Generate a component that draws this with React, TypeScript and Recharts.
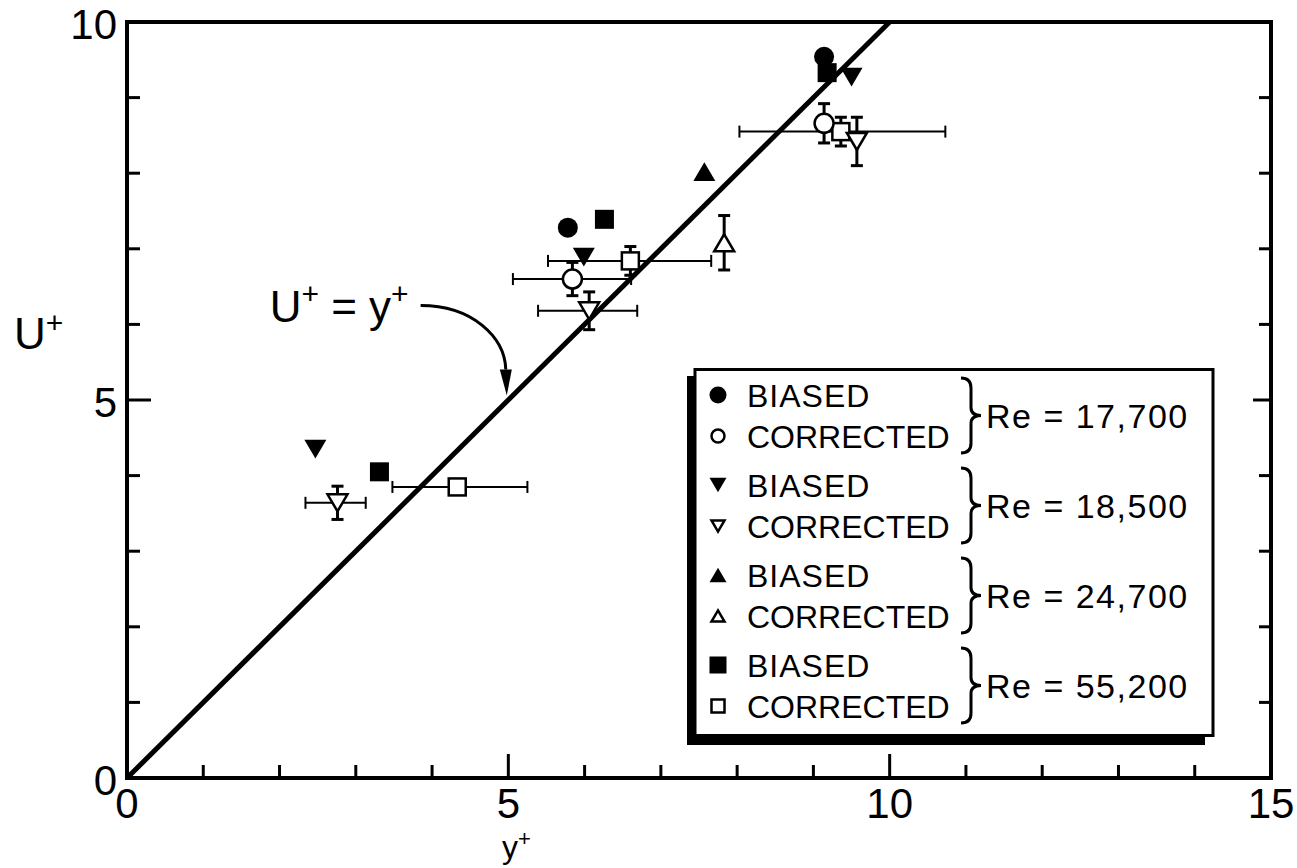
import React from "react";
import {
  ScatterChart,
  Scatter,
  XAxis,
  YAxis,
  ErrorBar,
  ReferenceLine,
} from "recharts";

const xTicks = [0, 1, 2, 3, 4, 5, 6, 7, 8, 9, 10, 11, 12, 13, 14, 15];
const yTicks = [0, 1, 2, 3, 4, 5, 6, 7, 8, 9, 10];
const labelledTicks = [0, 5, 10, 15];

// U+ = y+ line ends
const lawLine = [
  { x: 0, y: 0 },
  { x: 10, y: 10 },
];
// arrow from the "U+ = y+" note to the line
const noteArrow = [
  { x: 3.85, y: 6.25 },
  { x: 4.98, y: 5.06 },
];

// biased (filled) points
const biased17700 = [
  { x: 5.78, y: 7.28 },
  { x: 9.14, y: 9.54 },
];
const biased18500 = [
  { x: 5.99, y: 6.89 },
  { x: 2.47, y: 4.35 },
  { x: 9.5, y: 9.27 },
];
const biased24700 = [{ x: 7.57, y: 8.02 }];
const biased55200 = [
  { x: 6.26, y: 7.39 },
  { x: 3.31, y: 4.05 },
  { x: 9.18, y: 9.33 },
];

// corrected (open) points, ex = [minus, plus] in y+, ey = +/- in U+
const corrected17700 = [
  { x: 5.84, y: 6.6, ex: [0.78, 0.77], ey: 0.22 },
  { x: 9.14, y: 8.66, ey: 0.26 },
];
const corrected18500 = [
  { x: 6.06, y: 6.18, ex: [0.67, 0.63], ey: 0.25 },
  { x: 2.76, y: 3.64, ex: [0.42, 0.37], ey: 0.22 },
  { x: 9.57, y: 8.42, ey: 0.32 },
];
const corrected24700 = [{ x: 7.83, y: 7.08, ey: 0.36 }];
const corrected55200 = [
  { x: 6.6, y: 6.84, ex: [1.08, 1.06], ey: 0.19 },
  { x: 4.33, y: 3.85, ex: [0.85, 0.92] },
  { x: 9.36, y: 8.55, ex: [1.33, 1.37], ey: 0.19 },
];

const legendRows = [
  { re: "Re = 17,700", biased: "circle", corrected: "circle" },
  { re: "Re = 18,500", biased: "down", corrected: "down" },
  { re: "Re = 24,700", biased: "up", corrected: "up" },
  { re: "Re = 55,200", biased: "square", corrected: "square" },
];

const FONT = "'Liberation Sans', Arial, sans-serif";

function marker(kind: string, cx: number, cy: number, s: number, filled: boolean) {
  const fill = filled ? "#000" : "#fff";
  const sw = filled ? 0 : 2.5;
  if (kind === "circle") {
    return <circle cx={cx} cy={cy} r={s / 2} fill={fill} stroke="#000" strokeWidth={sw} />;
  }
  if (kind === "square") {
    return (
      <rect x={cx - s / 2} y={cy - s / 2} width={s} height={s} fill={fill} stroke="#000" strokeWidth={sw} />
    );
  }
  const h = s * 0.85;
  const pts =
    kind === "down"
      ? `${cx - s / 2},${cy - h / 2} ${cx + s / 2},${cy - h / 2} ${cx},${cy + h / 2}`
      : `${cx - s / 2},${cy + h / 2} ${cx + s / 2},${cy + h / 2} ${cx},${cy - h / 2}`;
  return <polygon points={pts} fill={fill} stroke="#000" strokeWidth={sw} strokeLinejoin="miter" />;
}

const shapeOf = (kind: string, filled: boolean, s: number) => (props: any) =>
  marker(kind, props.cx, props.cy, s, filled);

const BottomTick = (props: any) => {
  const { x, y, payload } = props;
  const v = payload.value;
  const major = v % 5 === 0;
  return (
    <g>
      <line x1={x} x2={x} y1={y} y2={y - (major ? 24 : 13)} stroke="#000" strokeWidth={3} />
      {labelledTicks.includes(v) && (
        <text x={x} y={y + 40} textAnchor="middle" fontSize={42} fontFamily={FONT} fill="#000">
          {v}
        </text>
      )}
    </g>
  );
};

const TopTick = (props: any) => {
  const { x, y, payload } = props;
  const major = payload.value % 5 === 0;
  return <line x1={x} x2={x} y1={y} y2={y + (major ? 18 : 11)} stroke="#000" strokeWidth={3} />;
};

const LeftTick = (props: any) => {
  const { x, y, payload } = props;
  const v = payload.value;
  const major = v % 5 === 0;
  return (
    <g>
      <line x1={x} x2={x + (major ? 24 : 13)} y1={y} y2={y} stroke="#000" strokeWidth={3} />
      {v % 5 === 0 && (
        <text x={x - 10} y={y + 17} textAnchor="end" fontSize={42} fontFamily={FONT} fill="#000">
          {v}
        </text>
      )}
    </g>
  );
};

const RightTick = (props: any) => {
  const { x, y, payload } = props;
  const major = payload.value % 5 === 0;
  return <line x1={x} x2={x - (major ? 18 : 12)} y1={y} y2={y} stroke="#000" strokeWidth={3} />;
};

const NoteArrow = (props: any) => {
  const { x1, y1, x2, y2 } = props;
  const dx = x2 - x1;
  const dy = y2 - y1;
  const tipBase = y2 - 26;
  return (
    <g>
      <text x={x1 - 12} y={y1 + 16} textAnchor="end" fontSize={44} fontFamily={FONT} fill="#000">
        U<tspan fontSize={30} dy={-18}>+</tspan>
        <tspan dy={18}> = y</tspan>
        <tspan fontSize={30} dy={-18}>+</tspan>
      </text>
      <path
        d={`M${x1},${y1} C${x1 + dx * 0.6},${y1} ${x2 - 2},${y1 + dy * 0.35} ${x2 - 1},${tipBase}`}
        fill="none"
        stroke="#000"
        strokeWidth={3}
      />
      <polygon points={`${x2 - 7},${tipBase} ${x2 + 5},${tipBase} ${x2},${y2}`} fill="#000" />
    </g>
  );
};

function brace(l: number, t: number, b: number) {
  const m = (t + b) / 2;
  return (
    <path
      d={`M${l},${t} Q${l + 10},${t} ${l + 10},${t + 10} L${l + 10},${m - 8} Q${l + 10},${m} ${l + 20},${m} Q${l + 10},${m} ${l + 10},${m + 8} L${l + 10},${b - 10} Q${l + 10},${b} ${l},${b}`}
      fill="none"
      stroke="#000"
      strokeWidth={3}
    />
  );
}

const Legend = () => {
  const rowY = [27, 117, 207, 297];
  return (
    <svg
      width={530}
      height={380}
      style={{ position: "absolute", left: 687, top: 368 }}
    >
      <rect x={0} y={8} width={518} height={369} fill="#000" />
      <rect x={8} y={1.5} width={518} height={366} fill="#fff" stroke="#000" strokeWidth={3} />
      {legendRows.map((r, i) => {
        const y0 = rowY[i];
        const y1 = y0 + 41;
        return (
          <g key={r.re}>
            {marker(r.biased, 31, y0, 17, true)}
            {marker(r.corrected, 31, y1, 13, false)}
            <text x={60} y={y0 + 12} fontSize={32} fontFamily={FONT} letterSpacing={1}>
              BIASED
            </text>
            <text x={60} y={y1 + 12} fontSize={32} fontFamily={FONT}>
              CORRECTED
            </text>
            {brace(274, y0 - 17, y1 + 17)}
            <text x={299} y={(y0 + y1) / 2 + 12} fontSize={34} fontFamily={FONT} letterSpacing={1.5}>
              {r.re}
            </text>
          </g>
        );
      })}
    </svg>
  );
};

export default function App() {
  return (
    <div style={{ position: "relative", width: 1297, height: 868, background: "#fff" }}>
      <style>{"body{margin:0;background:#fff}"}</style>
      <ScatterChart
        width={1297}
        height={868}
        margin={{ top: 21, right: 25, bottom: 0, left: 0 }}
      >
        <XAxis
          dataKey="x"
          type="number"
          domain={[0, 15]}
          ticks={xTicks}
          interval={0}
          tickSize={0}
          tickMargin={0}
          tick={BottomTick}
          height={90}
          axisLine={{ stroke: "#000", strokeWidth: 4, strokeLinecap: "square" }}
          allowDataOverflow
        />
        <XAxis
          xAxisId="top"
          orientation="top"
          type="number"
          domain={[0, 15]}
          ticks={xTicks}
          interval={0}
          tickSize={0}
          tickMargin={0}
          tick={TopTick}
          height={1}
          axisLine={{ stroke: "#000", strokeWidth: 4, strokeLinecap: "square" }}
          allowDataOverflow
        />
        <YAxis
          dataKey="y"
          type="number"
          domain={[0, 10]}
          ticks={yTicks}
          interval={0}
          tickSize={0}
          tickMargin={0}
          tick={LeftTick}
          width={127}
          axisLine={{ stroke: "#000", strokeWidth: 4, strokeLinecap: "square" }}
          allowDataOverflow
        />
        <YAxis
          yAxisId="right"
          orientation="right"
          type="number"
          domain={[0, 10]}
          ticks={yTicks}
          interval={0}
          tickSize={0}
          tickMargin={0}
          tick={RightTick}
          width={1}
          axisLine={{ stroke: "#000", strokeWidth: 4, strokeLinecap: "square" }}
          allowDataOverflow
        />
        <ReferenceLine
          segment={lawLine}
          stroke="#000"
          strokeWidth={5}
        />
        <ReferenceLine segment={noteArrow} shape={NoteArrow} />

        <Scatter data={corrected55200} shape={shapeOf("square", false, 17)} isAnimationActive={false}>
          <ErrorBar dataKey="ex" direction="x" width={6} stroke="#000" strokeWidth={2} isAnimationActive={false} />
          <ErrorBar dataKey="ey" direction="y" width={6} stroke="#000" strokeWidth={3} isAnimationActive={false} />
        </Scatter>
        <Scatter data={corrected17700} shape={shapeOf("circle", false, 19)} isAnimationActive={false}>
          <ErrorBar dataKey="ex" direction="x" width={6} stroke="#000" strokeWidth={2} isAnimationActive={false} />
          <ErrorBar dataKey="ey" direction="y" width={6} stroke="#000" strokeWidth={3} isAnimationActive={false} />
        </Scatter>
        <Scatter data={corrected18500} shape={shapeOf("down", false, 20)} isAnimationActive={false}>
          <ErrorBar dataKey="ex" direction="x" width={6} stroke="#000" strokeWidth={2} isAnimationActive={false} />
          <ErrorBar dataKey="ey" direction="y" width={6} stroke="#000" strokeWidth={3} isAnimationActive={false} />
        </Scatter>
        <Scatter data={corrected24700} shape={shapeOf("up", false, 20)} isAnimationActive={false}>
          <ErrorBar dataKey="ey" direction="y" width={6} stroke="#000" strokeWidth={3} isAnimationActive={false} />
        </Scatter>

        <Scatter data={biased17700} shape={shapeOf("circle", true, 20)} isAnimationActive={false} />
        <Scatter data={biased55200} shape={shapeOf("square", true, 19)} isAnimationActive={false} />
        <Scatter data={biased18500} shape={shapeOf("down", true, 22)} isAnimationActive={false} />
        <Scatter data={biased24700} shape={shapeOf("up", true, 22)} isAnimationActive={false} />
      </ScatterChart>

      <div
        style={{
          position: "absolute",
          left: 502,
          top: 828,
          fontSize: 32,
          fontFamily: FONT,
          lineHeight: 1,
        }}
      >
        y<sup style={{ fontSize: 22 }}>+</sup>
      </div>
      <div
        style={{
          position: "absolute",
          left: 14,
          top: 308,
          fontSize: 44,
          fontFamily: FONT,
          lineHeight: 1,
        }}
      >
        U<sup style={{ fontSize: 30 }}>+</sup>
      </div>
      <Legend />
    </div>
  );
}
